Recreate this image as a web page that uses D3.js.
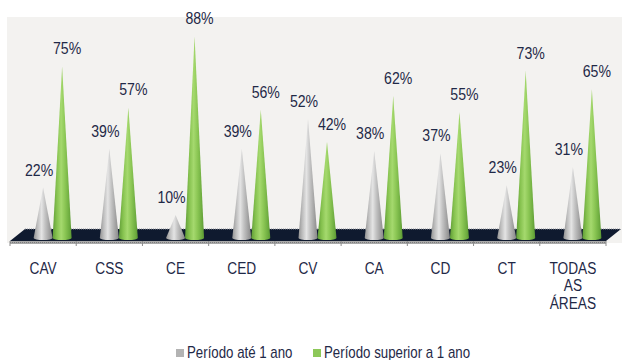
<!DOCTYPE html>
<html>
<head>
<meta charset="utf-8">
<script src="https://cdn.jsdelivr.net/npm/d3@7"></script>
<style>
  html, body { margin: 0; padding: 0; background: #ffffff; }
  svg { display: block; }
  text { font-family: "Liberation Sans", Arial, sans-serif; fill: #1f2947; }
</style>
</head>
<body>
<svg id="chart" width="622" height="360"></svg>
<script>
// Categories (areas) and the two series, in percent
const categories = ["CAV", "CSS", "CE", "CED", "CV", "CA", "CD", "CT", "TODAS AS ÁREAS"];
const categoryLines = [["CAV"], ["CSS"], ["CE"], ["CED"], ["CV"], ["CA"], ["CD"], ["CT"], ["TODAS", "AS", "ÁREAS"]];
const seriesNames = ["Período até 1 ano", "Período superior a 1 ano"];
const ateUmAno = [22, 39, 10, 39, 52, 38, 37, 23, 31];
const superiorUmAno = [75, 57, 88, 56, 42, 62, 55, 73, 65];

const svg = d3.select("#chart");
const W = 622, H = 360;
const NARROW = 0.83; // horizontal squeeze giving a narrow face

// Places a narrow text element at (px, py)
function narrowText(parent, px, py, anchor) {
  return parent.append("text")
    .attr("transform", `translate(${px},${py}) scale(${NARROW},1)`)
    .attr("text-anchor", anchor || "start");
}

// Scales
const x = d3.scaleBand().domain(categories).range([10, 606]).paddingInner(0).paddingOuter(0);
const xs = d3.scalePoint().domain(seriesNames).range([0, 19]);
const y = d3.scaleLinear().domain([0, 100]).range([238, 9]);

// Plot panel background
svg.append("rect").attr("x", 7).attr("y", 17).attr("width", W - 7).attr("height", 226)
  .attr("fill", "#f3f2f0");

// Gradients for the cones
const defs = svg.append("defs");
function coneGradient(id, stops) {
  const g = defs.append("linearGradient").attr("id", id)
    .attr("x1", "0%").attr("x2", "100%").attr("y1", "0%").attr("y2", "0%");
  stops.forEach(s => g.append("stop").attr("offset", s[0]).attr("stop-color", s[1]));
}
coneGradient("gGray", [["0%", "#929292"], ["20%", "#bdbdbd"], ["42%", "#e4e4e4"], ["60%", "#c4c4c4"], ["85%", "#9e9e9e"], ["100%", "#878787"]]);
coneGradient("gGreen", [["0%", "#5f9c36"], ["22%", "#86c24f"], ["45%", "#a5d96e"], ["65%", "#8cc755"], ["88%", "#6dac3f"], ["100%", "#5a9632"]]);

// Floor (3D base)
const floorFront = 241, floorBack = 229, depth = 15;
const fx0 = x.range()[0], fx1 = x.range()[1];
svg.append("path")
  .attr("d", `M${fx0},${floorFront} L${fx0 + depth},${floorBack} L${fx1 + depth},${floorBack} L${fx1},${floorFront} Z`)
  .attr("fill", "#0f1a2f");
svg.append("line").attr("x1", fx0 + depth).attr("x2", fx1 + depth).attr("y1", floorBack).attr("y2", floorBack)
  .attr("stroke", "#8e939c").attr("stroke-width", 1).attr("stroke-dasharray", "1,1");
svg.append("rect").attr("x", fx0).attr("y", floorFront).attr("width", fx1 - fx0).attr("height", 3)
  .attr("fill", "#a9a9a9");
svg.append("line").attr("x1", fx0).attr("x2", fx1).attr("y1", floorFront + 1.5).attr("y2", floorFront + 1.5)
  .attr("stroke", "#7d7d7d").attr("stroke-width", 1).attr("stroke-dasharray", "1,1");

// Category ticks
const tickXs = categories.map(c => x(c)).concat([fx1]);
svg.append("g").selectAll("line").data(tickXs).join("line")
  .attr("x1", d => d).attr("x2", d => d).attr("y1", floorFront).attr("y2", floorFront + 5)
  .attr("stroke", "#8a8a8a").attr("stroke-width", 1);

// Cones
const r = 9.5;
function conePath(cx, v) {
  const by = y(0), ty = y(v);
  return `M${cx - r},${by} L${cx},${ty} L${cx + r},${by} A${r},2 0 0 1 ${cx - r},${by} Z`;
}
const rows = categories.map((c, i) => ({ c, a: ateUmAno[i], s: superiorUmAno[i] }));
const cx = (c, s) => x(c) + x.bandwidth() / 2 + xs(s);

const cones = svg.append("g");
cones.selectAll("path.gray").data(rows).join("path").attr("class", "gray")
  .attr("d", d => conePath(cx(d.c, seriesNames[0]), d.a))
  .attr("fill", "url(#gGray)");
cones.selectAll("path.green").data(rows).join("path").attr("class", "green")
  .attr("d", d => conePath(cx(d.c, seriesNames[1]), d.s))
  .attr("fill", "url(#gGreen)");

// Value labels
const labels = svg.append("g").attr("font-size", 17);
rows.forEach(d => {
  narrowText(labels, cx(d.c, seriesNames[0]) - 4, y(d.a) - 12, "middle").text(d.a + "%");
  narrowText(labels, cx(d.c, seriesNames[1]) + 5, y(d.s) - 12, "middle").text(d.s + "%");
});

// Category labels
const cat = svg.append("g").attr("font-size", 16.5);
categories.forEach((c, i) => {
  const t = narrowText(cat, x(c) + x.bandwidth() / 2, 274, "middle");
  categoryLines[i].forEach((line, j) => {
    t.append("tspan").attr("x", 0).attr("dy", j === 0 ? 0 : 17.5).text(line);
  });
});

// Legend
const legend = svg.append("g").attr("font-size", 16);
const legendItems = [
  { name: seriesNames[0], color: "#b3b3b3", x: 176 },
  { name: seriesNames[1], color: "#8dc859", x: 313 }
];
legendItems.forEach(it => {
  legend.append("rect").attr("x", it.x).attr("y", 349).attr("width", 8).attr("height", 8).attr("fill", it.color);
  narrowText(legend, it.x + 11, 358).text(it.name);
});
</script>
</body>
</html>
